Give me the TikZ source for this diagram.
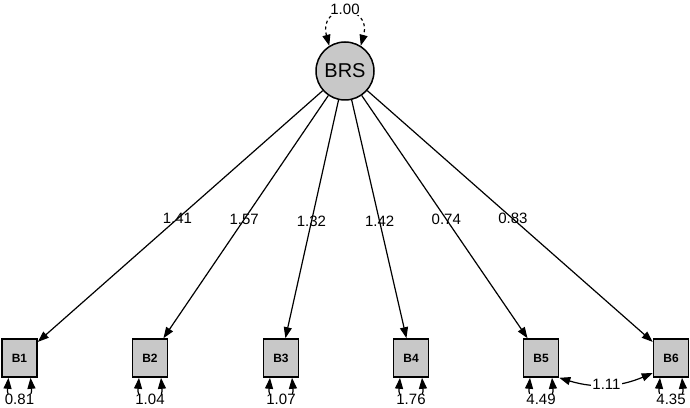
\documentclass[tikz,border=0pt]{standalone}
\usepackage{fontspec}
\setmainfont{Liberation Sans}
\usetikzlibrary{arrows.meta,positioning,calc}
\definecolor{semgray}{RGB}{200,200,200}

\begin{document}
\begin{tikzpicture}[x=1pt, y=1pt,
    latent/.style={draw, circle, fill=semgray, line width=1.5pt, minimum size=58pt, inner sep=0pt, font=\fontsize{20}{22}\selectfont},
    obs/.style={draw, rectangle, fill=semgray, line width=1.6pt, minimum width=35pt, minimum height=38pt, inner sep=0pt, font=\bfseries\fontsize{12}{14}\selectfont},
    arr/.style={-{Triangle[length=11pt,width=8pt]}, line width=1.2pt},
    dbl/.style={{Triangle[length=11pt,width=8pt]}-{Triangle[length=11pt,width=8pt]}, line width=1.2pt},
    est/.style={font=\fontsize{15}{17}\selectfont, inner sep=1pt},
  ]
  \useasboundingbox (0,0) rectangle (690,407);

  \node[latent] (BRS) at (345,336) {BRS};
  \node[obs] (B1) at (19.5,49) {B1};
  \node[obs] (B2) at (150,49) {B2};
  \node[obs] (B3) at (281,49) {B3};
  \node[obs] (B4) at (411,49) {B4};
  \node[obs] (B5) at (541,49) {B5};
  \node[obs] (B6) at (671,49) {B6};

  % loadings
  \draw[arr] (BRS) -- node[est, pos=0.51] {1.41} (B1);
  \draw[arr] (BRS) -- node[est, pos=0.51] {1.57} (B2);
  \draw[arr] (BRS) -- node[est, pos=0.51] {1.32} (B3);
  \draw[arr] (BRS) -- node[est, pos=0.51] {1.42} (B4);
  \draw[arr] (BRS) -- node[est, pos=0.51] {0.74} (B5);
  \draw[arr] (BRS) -- node[est, pos=0.51] {0.83} (B6);

  % variances
  \draw[dbl, dashed] (BRS.122) to[out=105, in=75, looseness=3.6] node[est, fill=white, inner sep=0pt, yshift=4pt] {1.00} (BRS.58);
  \draw[dbl] ([xshift=-11pt]B1.south) to[out=-95, in=-85, looseness=3.4] node[est, fill=white, inner sep=0pt] {0.81} ([xshift=11pt]B1.south);
  \draw[dbl] ([xshift=-11pt]B2.south) to[out=-95, in=-85, looseness=3.4] node[est, fill=white, inner sep=0pt] {1.04} ([xshift=11pt]B2.south);
  \draw[dbl] ([xshift=-11pt]B3.south) to[out=-95, in=-85, looseness=3.4] node[est, fill=white, inner sep=0pt] {1.07} ([xshift=11pt]B3.south);
  \draw[dbl] ([xshift=-11pt]B4.south) to[out=-95, in=-85, looseness=3.4] node[est, fill=white, inner sep=0pt] {1.76} ([xshift=11pt]B4.south);
  \draw[dbl] ([xshift=-11pt]B5.south) to[out=-95, in=-85, looseness=3.4] node[est, fill=white, inner sep=0pt] {4.49} ([xshift=11pt]B5.south);
  \draw[dbl] ([xshift=-11pt]B6.south) to[out=-95, in=-85, looseness=3.4] node[est, fill=white, inner sep=0pt] {4.35} ([xshift=11pt]B6.south);

  % covariance
  \draw[dbl] (B5.south east) to[bend right=20] node[est, fill=white] {1.11} ([yshift=-15pt]B6.west);
\end{tikzpicture}
\end{document}
